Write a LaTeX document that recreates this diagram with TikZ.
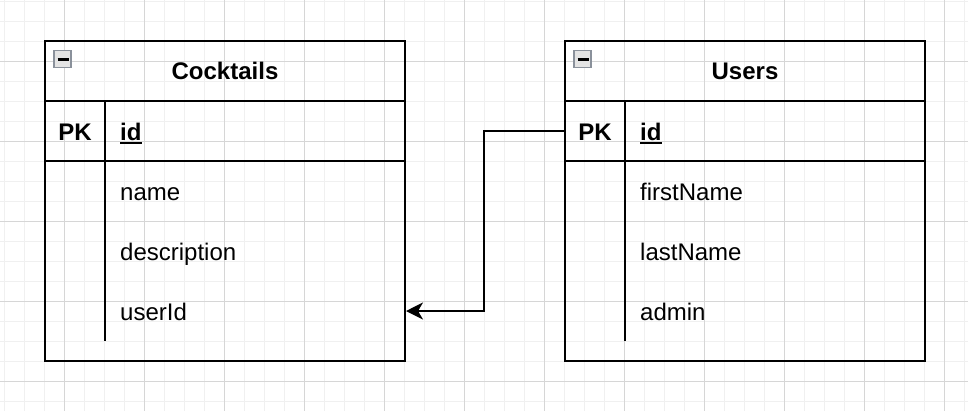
\documentclass[tikz,border=0pt]{standalone}
\usepackage{fontspec}
\setmainfont{Liberation Sans}
\usetikzlibrary{positioning}
\usetikzlibrary{arrows.meta}

\definecolor{minorgrid}{HTML}{F0F0F0}
\definecolor{majorgrid}{HTML}{D6D6D6}
\definecolor{iconedge}{HTML}{8A919B}
\definecolor{iconfill}{HTML}{E4E4E4}

\tikzset{
  tblframe/.style={draw, line width=2pt, inner sep=0pt, minimum width=360pt, minimum height=320pt},
  tblline/.style={line width=2pt},
  hdrtext/.style={font=\fontsize{24}{28}\selectfont\bfseries, anchor=base, inner sep=0pt},
  pktext/.style={font=\fontsize{24}{28}\selectfont\bfseries, anchor=base, inner sep=0pt},
  keytext/.style={font=\fontsize{24}{28}\selectfont\bfseries, anchor=base west, inner sep=0pt},
  fldtext/.style={font=\fontsize{24}{28}\selectfont, anchor=base west, inner sep=0pt},
  minusicon/.style={draw=iconedge, fill=iconfill, line width=1.5pt, inner sep=0pt, minimum size=17pt},
  fkline/.style={line width=2pt, -{Stealth[length=17pt, width=17pt, inset=5pt]}}
}

\begin{document}
\begin{tikzpicture}[x=1pt, y=-1pt]
  \useasboundingbox (0,0) rectangle (968,410);
  \fill[white] (0,0) rectangle (968,410);
  \begin{scope}
    \clip (0,0) rectangle (968,410);
    \begin{scope}[shift={(4.5,1)}]
      \draw[step=20pt, minorgrid, line width=1pt] (-20,-20) grid (980,420);
    \end{scope}
    \begin{scope}[shift={(64.5,61)}]
      \draw[step=80pt, majorgrid, line width=1pt] (-80,-80) grid (920,360);
    \end{scope}
  \end{scope}

  % Cocktails
  \node[tblframe] (cocktails) at (225,201) {};
  \draw[tblline] (45,101) -- (405,101);
  \draw[tblline] (45,161) -- (405,161);
  \draw[tblline] (105,101) -- (105,341);
  \node[minusicon] (cmin) at (62.5,59) {};
  \draw[line width=2.5pt] (57.5,59.5) -- (68.5,59.5);
  \node[hdrtext] (ctitle) at (225,79.5) {Cocktails};
  \node[pktext] (cpk) at (75,140) {PK};
  \node[keytext] (cid) at (120,140) {id};
  \draw[line width=2pt] ([yshift=-3pt]cid.base west) -- ([yshift=-3pt]cid.base east);
  \node[fldtext] (cname) at (120,200) {name};
  \node[fldtext] (cdesc) at (120,260) {description};
  \node[fldtext] (cuser) at (120,320) {userId};

  % Users
  \node[tblframe] (users) at (745,201) {};
  \draw[tblline] (565,101) -- (925,101);
  \draw[tblline] (565,161) -- (925,161);
  \draw[tblline] (625,101) -- (625,341);
  \node[minusicon] (umin) at (582.5,59) {};
  \draw[line width=2.5pt] (577.5,59.5) -- (588.5,59.5);
  \node[hdrtext] (utitle) at (745,79.5) {Users};
  \node[pktext] (upk) at (595,140) {PK};
  \node[keytext] (uid) at (640,140) {id};
  \draw[line width=2pt] ([yshift=-3pt]uid.base west) -- ([yshift=-3pt]uid.base east);
  \node[fldtext] (ufirst) at (640,200) {firstName};
  \node[fldtext] (ulast) at (640,260) {lastName};
  \node[fldtext] (uadmin) at (640,320) {admin};

  \coordinate (uidrow) at (users.west |- 0,131);
  \coordinate (cuserrow) at (cocktails.east |- 0,311);
  \draw[fkline] (uidrow) -- ++(-80,0) |- (cuserrow);
\end{tikzpicture}
\end{document}
